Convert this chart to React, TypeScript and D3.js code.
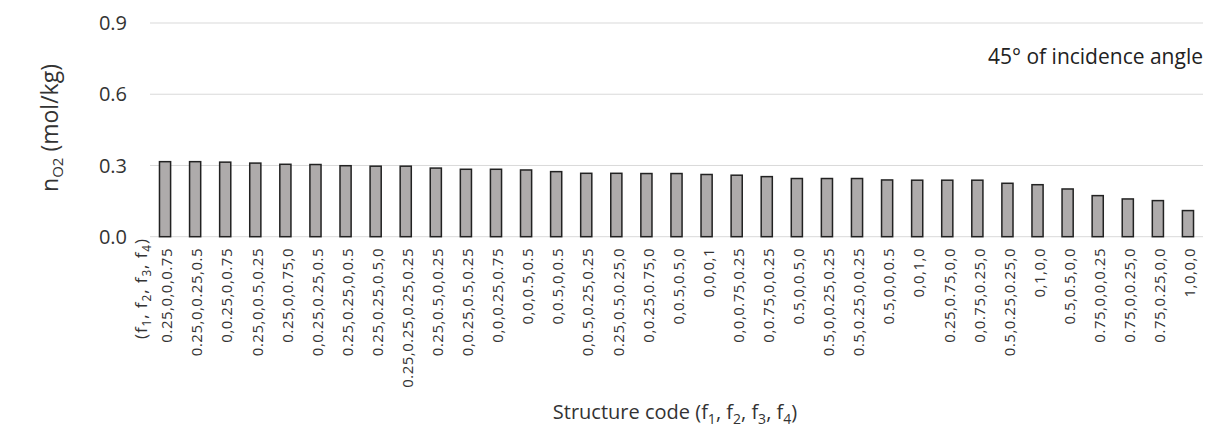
import React, { useEffect, useRef } from "react";
import * as d3 from "d3";

// structure codes (f1,f2,f3,f4), in the order of the bars
const codes = [
  "0.25,0,0,0.75",
  "0.25,0,0.25,0.5",
  "0,0.25,0,0.75",
  "0.25,0,0.5,0.25",
  "0.25,0,0.75,0",
  "0,0.25,0.25,0.5",
  "0.25,0.25,0,0.5",
  "0.25,0.25,0.5,0",
  "0.25,0.25,0.25,0.25",
  "0.25,0.5,0,0.25",
  "0,0.25,0.5,0.25",
  "0,0,0.25,0.75",
  "0,0,0.5,0.5",
  "0,0.5,0,0.5",
  "0,0.5,0.25,0.25",
  "0.25,0.5,0.25,0",
  "0,0.25,0.75,0",
  "0,0.5,0.5,0",
  "0,0,0,1",
  "0,0,0.75,0.25",
  "0,0.75,0,0.25",
  "0.5,0,0.5,0",
  "0.5,0,0.25,0.25",
  "0.5,0.25,0,0.25",
  "0.5,0,0,0.5",
  "0,0,1,0",
  "0.25,0.75,0,0",
  "0,0.75,0.25,0",
  "0.5,0.25,0.25,0",
  "0,1,0,0",
  "0.5,0.5,0,0",
  "0.75,0,0,0.25",
  "0.75,0,0.25,0",
  "0.75,0.25,0,0",
  "1,0,0,0",
];

// n_O2 (mol/kg) at 45 deg incidence
const nO2 = [
  0.316, 0.316, 0.314, 0.31, 0.305, 0.304, 0.299, 0.297, 0.297, 0.289, 0.284,
  0.284, 0.281, 0.274, 0.267, 0.267, 0.266, 0.266, 0.262, 0.259, 0.253, 0.245,
  0.245, 0.245, 0.239, 0.238, 0.238, 0.238, 0.225, 0.219, 0.201, 0.173, 0.159,
  0.152, 0.11,
];

const yTicks = [0, 0.3, 0.6, 0.9];

const FONT = "'Open Sans', sans-serif";

export default function App() {
  const ref = useRef<SVGSVGElement>(null);

  useEffect(() => {
    const svg = d3.select(ref.current);
    svg.selectAll("*").remove();

    const left = 150,
      right = 1203,
      top = 23,
      base = 236.7;

    const x = d3
      .scaleBand()
      .domain(codes)
      .range([left, right])
      .paddingInner(0.63)
      .paddingOuter(0.315);
    const y = d3.scaleLinear().domain([0, 0.9]).range([base, top]);

    // gridlines
    svg
      .append("g")
      .selectAll("line")
      .data(yTicks)
      .join("line")
      .attr("x1", left)
      .attr("x2", right)
      .attr("y1", (d) => y(d))
      .attr("y2", (d) => y(d))
      .attr("stroke", "#d9d9d9")
      .attr("stroke-width", 1);

    // y tick labels
    svg
      .append("g")
      .selectAll("text")
      .data(yTicks)
      .join("text")
      .attr("x", 127)
      .attr("y", (d) => y(d))
      .attr("dy", "0.36em")
      .attr("text-anchor", "end")
      .style("font-family", FONT)
      .style("font-size", "20px")
      .style("fill", "#333")
      .text((d) => d.toFixed(1));

    // bars
    svg
      .append("g")
      .selectAll("rect")
      .data(nO2)
      .join("rect")
      .attr("x", (d, i) => x(codes[i])!)
      .attr("width", x.bandwidth())
      .attr("y", (d) => y(d))
      .attr("height", (d) => base - y(d))
      .attr("fill", "#aeabab")
      .attr("stroke", "#222")
      .attr("stroke-width", 1.5);

    // x tick labels (rotated)
    svg
      .append("g")
      .selectAll("text")
      .data(codes)
      .join("text")
      .attr(
        "transform",
        (d) => `translate(${x(d)! + x.bandwidth() / 2 + 2},248) rotate(-90)`
      )
      .attr("dy", "0.35em")
      .attr("text-anchor", "end")
      .style("font-family", FONT)
      .style("font-size", "15px")
      .style("letter-spacing", "0.5px")
      .style("fill", "#333")
      .text((d) => d);

    // helper for "(f1, f2, f3, f4)" with subscripts
    const fLabel = (t: d3.Selection<SVGTextElement, unknown, null, undefined>, size: number) => {
      t.append("tspan").text("(");
      [1, 2, 3, 4].forEach((k, i) => {
        t.append("tspan").text("f");
        t.append("tspan")
          .attr("dy", size * 0.25)
          .style("font-size", `${size * 0.7}px`)
          .text(String(k));
        t.append("tspan")
          .attr("dy", -size * 0.25)
          .text(i < 3 ? ", " : ")");
      });
    };

    // category header next to the axis
    const head = svg
      .append("text")
      .attr("transform", "translate(141,238) rotate(-90)")
      .attr("dy", "0.35em")
      .attr("text-anchor", "end")
      .style("font-family", FONT)
      .style("font-size", "17px")
      .style("letter-spacing", "0.9px")
      .style("fill", "#333");
    fLabel(head, 17);

    // x axis title
    const xt = svg
      .append("text")
      .attr("x", 675)
      .attr("y", 419)
      .attr("text-anchor", "middle")
      .style("font-family", FONT)
      .style("font-size", "20px")
      .style("fill", "#333");
    xt.append("tspan").text("Structure code ");
    fLabel(xt, 20);

    // y axis title
    const yt = svg
      .append("text")
      .attr("transform", "translate(58,128) rotate(-90)")
      .attr("text-anchor", "middle")
      .style("font-family", FONT)
      .style("font-size", "23px")
      .style("fill", "#333");
    yt.append("tspan").text("n");
    yt.append("tspan").attr("dy", 5).style("font-size", "15px").text("O2");
    yt.append("tspan").attr("dy", -5).text(" (mol/kg)");

    // annotation
    svg
      .append("text")
      .attr("x", right)
      .attr("y", 64)
      .attr("text-anchor", "end")
      .style("font-family", FONT)
      .style("font-size", "21px")
      .style("fill", "#222")
      .text("45° of incidence angle");
  }, []);

  return (
    <svg
      ref={ref}
      width={1215}
      height={430}
      style={{ position: "absolute", left: 0, top: 0, background: "#fff" }}
    />
  );
}
